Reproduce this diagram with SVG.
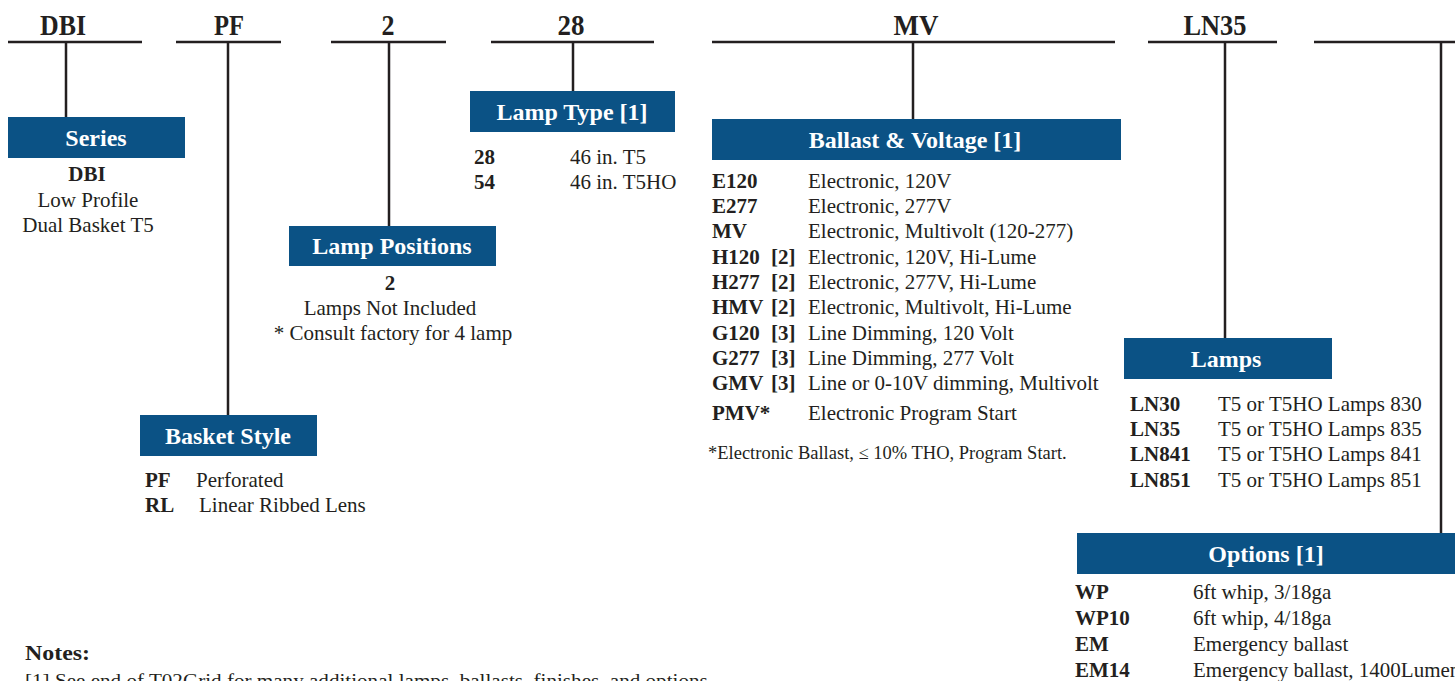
<svg xmlns="http://www.w3.org/2000/svg" width="1455" height="681" viewBox="0 0 1455 681" style="font-family:'Liberation Serif',serif">
<style>
.ln{stroke:#231f20;stroke-width:2.5;fill:none}
.bx{fill:#0b5285}
.hd{font-family:'Liberation Serif',serif;font-weight:bold;font-size:29px;fill:#231f20;text-anchor:middle}
.tt{font-family:'Liberation Serif',serif;font-weight:bold;font-size:24px;fill:#fff;text-anchor:middle}
.t{font-family:'Liberation Serif',serif;font-size:21px;fill:#231f20}
.b{font-weight:bold}
.c{text-anchor:middle}
.fn{font-family:'Liberation Serif',serif;font-size:18.5px;fill:#231f20}
</style>
<rect width="1455" height="681" fill="#fff"/>
<g id="connectors">
<path class="ln" d="M8 42H142M176 42H281M331 42H446M491 42H654M712 42H1115M1148 42H1277M1314 42H1455"/>
<path class="ln" d="M66 42V117M228 42V415M389 42V226M573 42V91M913 42V119M1225 42V338M1441 42V533"/>
</g>
<g id="headers">
<text class="hd" x="63" y="35" textLength="46" lengthAdjust="spacingAndGlyphs">DBI</text>
<text class="hd" x="229" y="35" textLength="30" lengthAdjust="spacingAndGlyphs">PF</text>
<text class="hd" x="388" y="35" textLength="13" lengthAdjust="spacingAndGlyphs">2</text>
<text class="hd" x="571" y="35" textLength="27" lengthAdjust="spacingAndGlyphs">28</text>
<text class="hd" x="916" y="35" textLength="45" lengthAdjust="spacingAndGlyphs">MV</text>
<text class="hd" x="1215" y="35" textLength="63" lengthAdjust="spacingAndGlyphs">LN35</text>
</g>
<g id="series">
<rect class="bx" x="8" y="117" width="177" height="41"/>
<text class="tt" x="96" y="146">Series</text>
<text class="t b c" x="87" y="181">DBI</text>
<text class="t c" x="88" y="207">Low Profile</text>
<text class="t c" x="88" y="232">Dual Basket T5</text>
</g>
<g id="basket-style">
<rect class="bx" x="140" y="415" width="177" height="41"/>
<text class="tt" x="228" y="444">Basket Style</text>
<text class="t b" x="145" y="487">PF</text>
<text class="t" x="196" y="487">Perforated</text>
<text class="t b" x="145" y="512">RL</text>
<text class="t" x="199" y="512">Linear Ribbed Lens</text>
</g>
<g id="lamp-positions">
<rect class="bx" x="289" y="226" width="207" height="40"/>
<text class="tt" x="392" y="254">Lamp Positions</text>
<text class="t b c" x="390" y="290">2</text>
<text class="t c" x="390" y="315">Lamps Not Included</text>
<text class="t c" x="393" y="340">* Consult factory for 4 lamp</text>
</g>
<g id="lamp-type">
<rect class="bx" x="470" y="91" width="205" height="41"/>
<text class="tt" x="572" y="120">Lamp Type [1]</text>
<text class="t b" x="474" y="164">28</text>
<text class="t" x="570" y="164">46 in. T5</text>
<text class="t b" x="474" y="189">54</text>
<text class="t" x="570" y="189">46 in. T5HO</text>
</g>
<g id="ballast-voltage">
<rect class="bx" x="712" y="119" width="409" height="41"/>
<text class="tt" x="915" y="148">Ballast &amp; Voltage [1]</text>
<text class="t b" x="712" y="188">E120</text><text class="t" x="808" y="188">Electronic, 120V</text>
<text class="t b" x="712" y="213">E277</text><text class="t" x="808" y="213">Electronic, 277V</text>
<text class="t b" x="712" y="238">MV</text><text class="t" x="808" y="238">Electronic, Multivolt (120-277)</text>
<text class="t b" x="712" y="264">H120</text><text class="t b" x="771" y="264">[2]</text><text class="t" x="808" y="264">Electronic, 120V, Hi-Lume</text>
<text class="t b" x="712" y="289">H277</text><text class="t b" x="771" y="289">[2]</text><text class="t" x="808" y="289">Electronic, 277V, Hi-Lume</text>
<text class="t b" x="712" y="314">HMV</text><text class="t b" x="771" y="314">[2]</text><text class="t" x="808" y="314">Electronic, Multivolt, Hi-Lume</text>
<text class="t b" x="712" y="340">G120</text><text class="t b" x="771" y="340">[3]</text><text class="t" x="808" y="340">Line Dimming, 120 Volt</text>
<text class="t b" x="712" y="365">G277</text><text class="t b" x="771" y="365">[3]</text><text class="t" x="808" y="365">Line Dimming, 277 Volt</text>
<text class="t b" x="712" y="390">GMV</text><text class="t b" x="771" y="390">[3]</text><text class="t" x="808" y="390">Line or 0-10V dimming, Multivolt</text>
<text class="t b" x="712" y="420">PMV*</text><text class="t" x="808" y="420">Electronic Program Start</text>
<text class="fn" x="708" y="459">*Electronic Ballast, ≤ 10% THO, Program Start.</text>
</g>
<g id="lamps">
<rect class="bx" x="1124" y="338" width="208" height="41"/>
<text class="tt" x="1226" y="367">Lamps</text>
<text class="t b" x="1130" y="411">LN30</text><text class="t" x="1218" y="411">T5 or T5HO Lamps 830</text>
<text class="t b" x="1130" y="436">LN35</text><text class="t" x="1218" y="436">T5 or T5HO Lamps 835</text>
<text class="t b" x="1130" y="461">LN841</text><text class="t" x="1218" y="461">T5 or T5HO Lamps 841</text>
<text class="t b" x="1130" y="487">LN851</text><text class="t" x="1218" y="487">T5 or T5HO Lamps 851</text>
</g>
<g id="options">
<rect class="bx" x="1077" y="533" width="378" height="41"/>
<text class="tt" x="1266" y="562">Options [1]</text>
<text class="t b" x="1075" y="599">WP</text><text class="t" x="1193" y="599">6ft whip, 3/18ga</text>
<text class="t b" x="1075" y="625">WP10</text><text class="t" x="1193" y="625">6ft whip, 4/18ga</text>
<text class="t b" x="1075" y="651">EM</text><text class="t" x="1193" y="651">Emergency ballast</text>
<text class="t b" x="1075" y="677">EM14</text><text class="t" x="1193" y="677">Emergency ballast, 1400Lumens</text>
</g>
<g id="notes">
<text class="t b" x="25" y="660" font-size="23" textLength="65" lengthAdjust="spacingAndGlyphs">Notes:</text>
<text class="fn" x="25" y="687" textLength="688" lengthAdjust="spacingAndGlyphs">[1] See end of T02Grid for many additional lamps, ballasts, finishes, and options.</text>
</g>
</svg>
